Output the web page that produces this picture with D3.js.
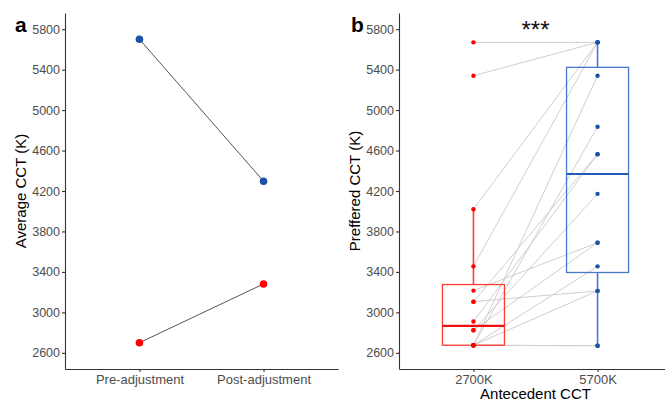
<!DOCTYPE html>
<html>
<head>
<meta charset="utf-8">
<script src="https://cdn.jsdelivr.net/npm/d3@7"></script>
<style>
  body { margin: 0; background: #fff; }
  svg { display: block; font-family: "Liberation Sans", Arial, sans-serif; }
  .axis path, .axis line { stroke: #333; stroke-width: 1.1; }
  .axis text { fill: #4d4d4d; font-size: 12.5px; }
  .title { fill: #000; font-size: 15px; }
  .tag { font-weight: bold; font-size: 21px; fill: #000; }
</style>
</head>
<body>
<script>
// panel a: average CCT before / after adjustment
var stages = ["Pre-adjustment", "Post-adjustment"];
var avg5700 = [5700, 4297];
var avg2700 = [2700, 3281];

// panel b: preferred CCT per participant, paired
var antecedents = ["2700K", "5700K"];
var pref2700 = [5670, 5340, 4020, 3455, 3215, 3106, 3106, 2909, 2823, 2823, 2675, 2675, 2675, 2675, 2675, 2675];
var pref5700 = [5670, 5670, 5670, 5670, 3689, 3212, 4564, 4564, 3689, 4172, 2670, 2670, 3212, 3455, 5340, 4836];

var yTicks = [2600, 3000, 3400, 3800, 4200, 4600, 5000, 5400, 5800];
var signif = "***";

var red = "#ff0000", blue = "#1a52a6",
  redBox = "#ff3a2e", blueBox = "#4a78c8";

var width = 665, height = 401;

var svg = d3.select("body").append("svg")
    .attr("width", width)
    .attr("height", height);

var y = d3.scaleLinear()
  .domain([2440, 5960])
  .range([369, 13]);

function drawAxes(x, yTitle, xTitle, tag, tagX){
  var left = x.range()[0];

  svg.append("g")
      .attr("class", "axis")
      .attr("transform", "translate(" + left + ",0)")
      .call(d3.axisLeft(y).tickValues(yTicks).tickSize(3).tickSizeOuter(0).tickPadding(2).tickFormat(d3.format("d")));

  svg.append("g")
      .attr("class", "axis")
      .attr("transform", "translate(0," + y.range()[0] + ")")
      .call(d3.axisBottom(x).tickSize(3).tickSizeOuter(0).tickPadding(3))
    .selectAll("text")
      .style("font-size", "13px");

  svg.append("text")
      .attr("class", "title")
      .attr("transform", "translate(" + (left - 39) + "," + d3.mean(y.range()) + ") rotate(-90)")
      .attr("text-anchor", "middle")
      .text(yTitle);

  if (xTitle){
    svg.append("text")
        .attr("class", "title")
        .attr("x", d3.mean(x.domain(), function(d){ return x(d); }))
        .attr("y", 399)
        .attr("text-anchor", "middle")
        .text(xTitle);
  }

  svg.append("text")
      .attr("class", "tag")
      .attr("x", tagX)
      .attr("y", 32)
      .text(tag);
}

// ---- panel a
var xa = d3.scalePoint()
  .domain(stages)
  .range([65, 338])
  .padding(0.6);

drawAxes(xa, "Average CCT (K)", null, "a", 15);

[[avg5700, blue], [avg2700, red]].forEach(function(s){
  var pts = stages.map(function(st, i){ return [xa(st), y(s[0][i])]; });
  svg.append("path")
      .attr("d", d3.line()(pts))
      .attr("fill", "none")
      .attr("stroke", "#555")
      .attr("stroke-width", 1);
  svg.selectAll(null)
      .data(pts)
    .enter().append("circle")
      .attr("cx", function(d){ return d[0]; })
      .attr("cy", function(d){ return d[1]; })
      .attr("r", 3.8)
      .attr("fill", s[1]);
});

// ---- panel b
var xb = d3.scalePoint()
  .domain(antecedents)
  .range([399, 672])
  .padding(0.6);

drawAxes(xb, "Preffered CCT (K)", "Antecedent CCT", "b", 351);

// paired lines
svg.selectAll(".pair")
    .data(d3.range(pref2700.length))
  .enter().append("line")
    .attr("class", "pair")
    .attr("x1", xb(antecedents[0]))
    .attr("x2", xb(antecedents[1]))
    .attr("y1", function(i){ return y(pref2700[i]); })
    .attr("y2", function(i){ return y(pref5700[i]); })
    .attr("stroke", "#cfcfcf")
    .attr("stroke-width", 1);

function boxStats(vals){
  var s = vals.slice().sort(d3.ascending);
  var q1 = d3.quantile(s, 0.25), med = d3.quantile(s, 0.5), q3 = d3.quantile(s, 0.75),
    iqr = q3 - q1;
  var lo = d3.min(s.filter(function(v){ return v >= q1 - 1.5 * iqr; })),
    hi = d3.max(s.filter(function(v){ return v <= q3 + 1.5 * iqr; }));
  return {q1: q1, med: med, q3: q3, lo: lo, hi: hi};
}

var boxHalf = 31;

[[pref2700, antecedents[0], redBox, red], [pref5700, antecedents[1], blueBox, blue]].forEach(function(s){
  var b = boxStats(s[0]), cx = xb(s[1]);
  var g = svg.append("g");

  g.append("line")
      .attr("x1", cx).attr("x2", cx)
      .attr("y1", y(b.q3)).attr("y2", y(b.hi))
      .attr("stroke", s[2]).attr("stroke-width", 1.6);
  g.append("line")
      .attr("x1", cx).attr("x2", cx)
      .attr("y1", y(b.q1)).attr("y2", y(b.lo))
      .attr("stroke", s[2]).attr("stroke-width", 1.6);
  g.append("rect")
      .attr("x", cx - boxHalf)
      .attr("y", y(b.q3))
      .attr("width", boxHalf * 2)
      .attr("height", y(b.q1) - y(b.q3))
      .attr("fill", "none")
      .attr("stroke", s[2])
      .attr("stroke-width", 1.3);
  g.append("line")
      .attr("x1", cx - boxHalf).attr("x2", cx + boxHalf)
      .attr("y1", y(b.med)).attr("y2", y(b.med))
      .attr("stroke", s[3] == red ? "#ee1111" : "#2459b5")
      .attr("stroke-width", 2.2);

  g.selectAll("circle")
      .data(s[0])
    .enter().append("circle")
      .attr("cx", cx)
      .attr("cy", function(d){ return y(d); })
      .attr("r", 2.2)
      .attr("fill", s[3]);
});

svg.append("text")
    .attr("x", d3.mean(antecedents, function(d){ return xb(d); }))
    .attr("y", 38)
    .attr("text-anchor", "middle")
    .style("font-size", "24px")
    .style("fill", "#111")
    .text(signif);
</script>
</body>
</html>
